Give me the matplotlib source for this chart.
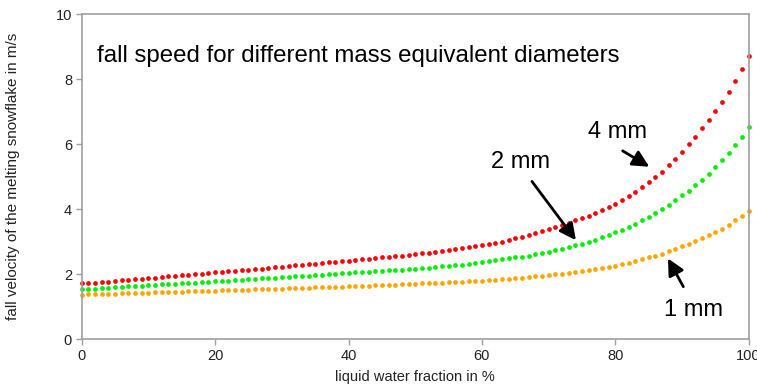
import matplotlib
matplotlib.use("Agg")
import matplotlib.pyplot as plt

plt.rcParams['font.family'] = ['Liberation Sans', 'DejaVu Sans']

liquid_fraction = list(range(0, 101))

v_4mm = [1.72, 1.74, 1.75, 1.77, 1.78, 1.80, 1.82, 1.83, 1.85, 1.87,
         1.89, 1.90, 1.92, 1.94, 1.95, 1.97, 1.99, 2.01, 2.02, 2.04,
         2.06, 2.08, 2.09, 2.11, 2.13, 2.15, 2.17, 2.18, 2.20, 2.22,
         2.24, 2.26, 2.28, 2.29, 2.31, 2.33, 2.35, 2.37, 2.38, 2.40,
         2.42, 2.44, 2.46, 2.48, 2.50, 2.52, 2.54, 2.56, 2.58, 2.60,
         2.63, 2.65, 2.67, 2.70, 2.72, 2.75, 2.77, 2.80, 2.83, 2.86,
         2.89, 2.93, 2.97, 3.01, 3.06, 3.11, 3.16, 3.21, 3.27, 3.33,
         3.39, 3.45, 3.52, 3.59, 3.66, 3.73, 3.81, 3.90, 3.99, 4.08,
         4.18, 4.29, 4.41, 4.54, 4.68, 4.83, 4.99, 5.16, 5.35, 5.55,
         5.77, 6.00, 6.24, 6.49, 6.75, 7.02, 7.31, 7.62, 7.96, 8.33,
         8.73]

v_2mm = [1.54, 1.55, 1.56, 1.58, 1.59, 1.60, 1.61, 1.63, 1.64, 1.65,
         1.66, 1.68, 1.69, 1.70, 1.71, 1.73, 1.74, 1.75, 1.76, 1.78,
         1.79, 1.80, 1.81, 1.83, 1.84, 1.85, 1.86, 1.88, 1.89, 1.90,
         1.91, 1.93, 1.94, 1.95, 1.96, 1.98, 1.99, 2.00, 2.02, 2.03,
         2.04, 2.06, 2.07, 2.08, 2.10, 2.11, 2.12, 2.14, 2.15, 2.17,
         2.18, 2.20, 2.21, 2.23, 2.25, 2.26, 2.28, 2.30, 2.32, 2.34,
         2.37, 2.40, 2.43, 2.46, 2.49, 2.52, 2.55, 2.58, 2.62, 2.66,
         2.70, 2.74, 2.79, 2.84, 2.89, 2.94, 3.00, 3.06, 3.14, 3.22,
         3.30, 3.38, 3.47, 3.56, 3.66, 3.77, 3.89, 4.01, 4.14, 4.28,
         4.43, 4.58, 4.74, 4.91, 5.10, 5.30, 5.51, 5.74, 5.98, 6.24,
         6.52]

v_1mm = [1.38, 1.39, 1.39, 1.40, 1.40, 1.41, 1.42, 1.42, 1.43, 1.43,
         1.44, 1.45, 1.45, 1.46, 1.46, 1.47, 1.48, 1.48, 1.49, 1.49,
         1.50, 1.51, 1.51, 1.52, 1.53, 1.53, 1.54, 1.54, 1.55, 1.56,
         1.56, 1.57, 1.58, 1.58, 1.59, 1.60, 1.60, 1.61, 1.62, 1.62,
         1.63, 1.64, 1.65, 1.65, 1.66, 1.67, 1.68, 1.68, 1.69, 1.70,
         1.71, 1.72, 1.73, 1.74, 1.75, 1.76, 1.77, 1.78, 1.79, 1.80,
         1.81, 1.83, 1.84, 1.86, 1.87, 1.89, 1.90, 1.92, 1.94, 1.96,
         1.98, 2.00, 2.02, 2.05, 2.07, 2.10, 2.13, 2.16, 2.19, 2.23,
         2.27, 2.31, 2.36, 2.41, 2.46, 2.52, 2.58, 2.64, 2.71, 2.78,
         2.86, 2.94, 3.02, 3.11, 3.20, 3.30, 3.41, 3.53, 3.66, 3.80,
         3.95]

x_ticks = [0, 20, 40, 60, 80, 100]
y_ticks = [0, 2, 4, 6, 8, 10]

fig = plt.figure(figsize=(7.57, 3.87), dpi=100)
ax = fig.add_axes([0.108, 0.123, 0.881, 0.840])

ms = 3.4
ax.plot(liquid_fraction, v_1mm, 'o', color='#ffa500', markersize=ms, markeredgewidth=0, clip_on=False)
ax.plot(liquid_fraction, v_2mm, 'o', color='#00ee00', markersize=ms, markeredgewidth=0, clip_on=False)
ax.plot(liquid_fraction, v_4mm, 'o', color='#ff0000', markersize=ms, markeredgewidth=0, clip_on=False)

ax.set_xlim(0, 100)
ax.set_ylim(0, 10)
ax.set_xticks(x_ticks)
ax.set_yticks(y_ticks)
for s in ax.spines.values():
    s.set_color('#a0a0a0')
    s.set_linewidth(1.2)
ax.tick_params(direction='out', length=4, width=1, color='#a0a0a0',
               labelsize=10.5, labelcolor='#222222', pad=3)

ax.set_xlabel('liquid water fraction in %', fontsize=10.5, color='#222222')
ax.xaxis.set_label_coords(0.5, -0.095)
ax.set_ylabel('fall velocity of the melting snowflake in m/s', fontsize=11,
              color='#222222')
ax.yaxis.set_label_coords(-0.092, 0.5)

ax.text(2.3, 8.52, 'fall speed for different mass equivalent diameters',
        fontsize=17.3, color='black', va='baseline', ha='left')

arrow = dict(arrowstyle='-|>,head_length=1.0,head_width=0.5', color='black', lw=2.0,
             shrinkA=0, shrinkB=0)
ax.annotate('', xy=(85.1, 5.31), xytext=(81.1, 5.80), arrowprops=arrow)
ax.annotate('', xy=(74.1, 3.05), xytext=(67.5, 4.86), arrowprops=arrow)
ax.annotate('', xy=(87.9, 2.49), xytext=(90.2, 1.62), arrowprops=arrow)

ax.text(80.3, 6.39, '4 mm', fontsize=17, ha='center', va='center')
ax.text(65.8, 5.46, '2 mm', fontsize=17, ha='center', va='center')
ax.text(91.8, 0.90, '1 mm', fontsize=17, ha='center', va='center')

fig.savefig('out.png', dpi=100)
